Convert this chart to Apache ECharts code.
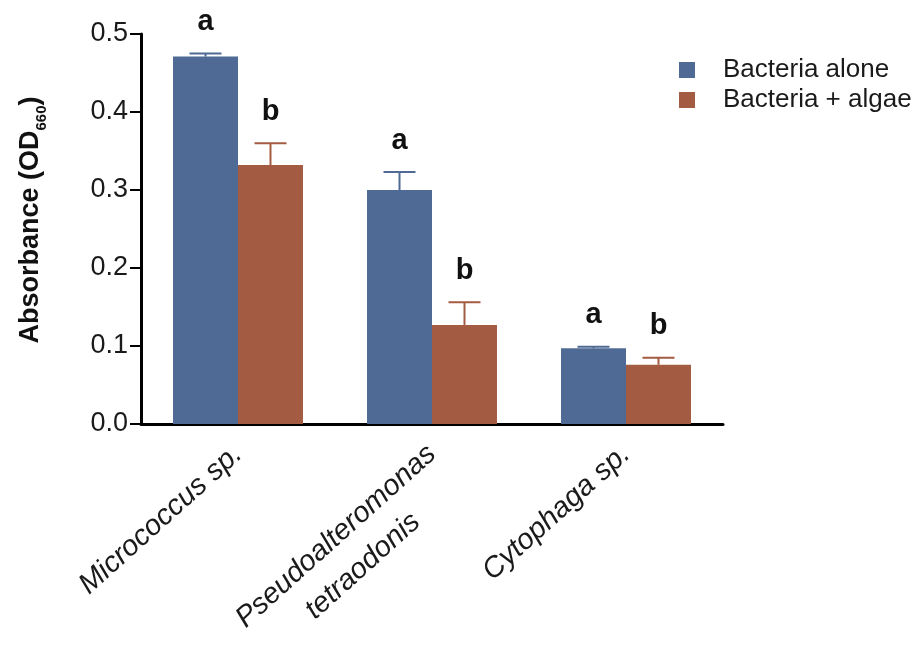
<!DOCTYPE html>
<html>
<head>
<meta charset="utf-8">
<script src="https://cdn.jsdelivr.net/npm/echarts@6/dist/echarts.min.js"></script>
<style>
  html, body { margin: 0; padding: 0; background: #fff; }
  #chart { width: 916px; height: 657px; }
</style>
</head>
<body>
<div id="chart"></div>
<script>
// Bacterial growth (OD660) with and without algae
const categories = ['Micrococcus sp.', 'Pseudoalteromonas\ntetraodonis', 'Cytophaga sp.'];
const seriesNames = ['Bacteria alone', 'Bacteria + algae'];
const aloneMean = [0.471, 0.300, 0.097];
const aloneErr = [0.004, 0.023, 0.002];
const algaeMean = [0.332, 0.127, 0.076];
const algaeErr = [0.028, 0.029, 0.009];
const aloneLetters = ['a', 'a', 'a'];
const algaeLetters = ['b', 'b', 'b'];
const yTicks = [0.0, 0.1, 0.2, 0.3, 0.4, 0.5];

const FONT = 'Liberation Sans, Arial, Helvetica, sans-serif';
const BLUE = '#4f6b95';
const RED = '#a35b42';
const BAR_RATIO = 0.335; // share of the category band taken by each bar
const LABEL_LINE = 40;   // line height of the category labels

// error bar + significance letter drawn on top of each bar
function errorSeries(name, means, errs, letters, color, side) {
  return {
    type: 'custom',
    name: name + ' error',
    z: 5,
    data: means.map((m, i) => [i, m, m + errs[i]]),
    renderItem: function (params, api) {
      const band = api.size([1, 0])[0];
      const bw = band * BAR_RATIO;
      const base = api.coord([api.value(0), api.value(1)]);
      const top = api.coord([api.value(0), api.value(2)]);
      const cx = base[0] + side * bw / 2;
      const capHalf = 16;
      return {
        type: 'group',
        children: [
          { type: 'line', shape: { x1: cx, y1: base[1], x2: cx, y2: top[1] },
            style: { stroke: color, lineWidth: 2 } },
          { type: 'line', shape: { x1: cx - capHalf, y1: top[1], x2: cx + capHalf, y2: top[1] },
            style: { stroke: color, lineWidth: 2 } },
          { type: 'text', x: cx, y: top[1] - 17,
            style: { text: letters[params.dataIndex], font: 'bold 29px ' + FONT,
                     fill: '#111', align: 'center', verticalAlign: 'bottom' } }
        ]
      };
    }
  };
}

// first line of a two-line label gets extra room above it so it sits
// where a one-line label would, with the second line hanging below
function categoryLabel(v) {
  const lines = v.split('\n');
  return lines.map((s, i) => (i === 0 && lines.length > 1 ? '{p|' : '{c|') + s + '}').join('\n');
}
const labelStyle = { align: 'center', fontFamily: FONT, fontStyle: 'italic', fontSize: 29, color: '#1a1a1a', lineHeight: LABEL_LINE };

const chart = echarts.init(document.getElementById('chart'), null, { renderer: 'canvas' });
chart.setOption({
  animation: false,
  backgroundColor: '#fff',
  grid: { left: 141, right: 193, top: 34, bottom: 233, containLabel: false, outerBoundsMode: 'none' },
  legend: {
    data: seriesNames,
    orient: 'vertical',
    left: 679,
    top: 56,
    padding: 0,
    icon: 'rect',
    itemWidth: 16,
    itemHeight: 16,
    itemGap: 2,
    textStyle: { fontFamily: FONT, fontSize: 26, color: '#1a1a1a', padding: [0, 0, 0, 23], lineHeight: 28 }
  },
  xAxis: {
    type: 'category',
    data: categories,
    axisLine: { lineStyle: { color: '#000', width: 3 } },
    axisTick: { show: false },
    axisLabel: {
      interval: 0,
      rotate: 42,
      margin: 26,
      formatter: categoryLabel,
      rich: {
        c: labelStyle,
        p: Object.assign({}, labelStyle, { lineHeight: LABEL_LINE * 2, padding: [LABEL_LINE, 0, 0, 0] })
      }
    }
  },
  yAxis: {
    type: 'value',
    min: yTicks[0],
    max: yTicks[yTicks.length - 1],
    interval: 0.1,
    splitLine: { show: false },
    axisLine: { show: true, lineStyle: { color: '#000', width: 3 } },
    axisTick: { show: true, length: 11, lineStyle: { color: '#000', width: 2 } },
    axisLabel: {
      margin: 13,
      fontFamily: FONT,
      fontSize: 27,
      color: '#1a1a1a',
      formatter: v => v.toFixed(1)
    },
    name: '{m|Absorbance (OD}{s|660}{m|)}',
    nameLocation: 'middle',
    nameGap: 92,
    nameTextStyle: {
      padding: [0, 0, 0, 18],
      rich: {
        m: { fontFamily: FONT, fontWeight: 'bold', fontSize: 27, color: '#111', verticalAlign: 'bottom', padding: [0, 0, 5, 0] },
        s: { fontFamily: FONT, fontWeight: 'bold', fontSize: 15, color: '#111', verticalAlign: 'bottom' }
      }
    }
  },
  series: [
    { type: 'bar', name: seriesNames[0], data: aloneMean, barWidth: (BAR_RATIO * 100) + '%', barGap: '0%',
      itemStyle: { color: BLUE } },
    { type: 'bar', name: seriesNames[1], data: algaeMean, barWidth: (BAR_RATIO * 100) + '%', barGap: '0%',
      itemStyle: { color: RED } },
    errorSeries(seriesNames[0], aloneMean, aloneErr, aloneLetters, BLUE, -1),
    errorSeries(seriesNames[1], algaeMean, algaeErr, algaeLetters, RED, 1)
  ]
});
</script>
</body>
</html>
